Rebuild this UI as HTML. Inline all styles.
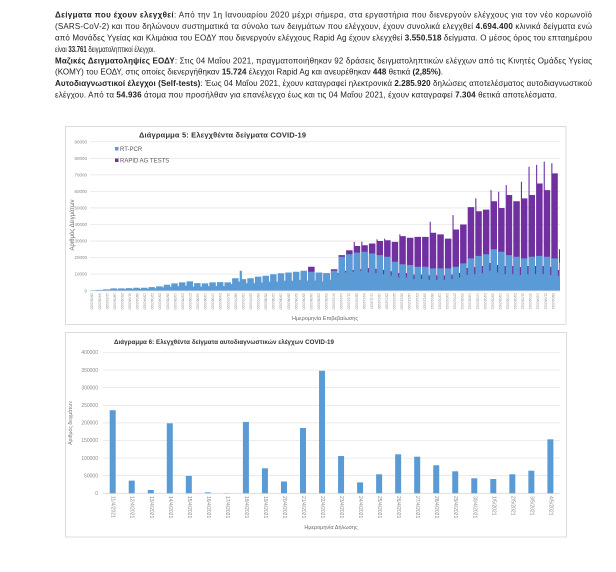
<!DOCTYPE html>
<html>
<head>
<meta charset="utf-8">
<style>
  html,body{margin:0;padding:0;background:#fff;}
  svg{display:block;}
  .p{font-family:"Liberation Sans","Noto Sans CJK SC",sans-serif;font-size:8px;fill:#222;}
  .b{font-weight:bold;}
  .t{font-family:"Liberation Sans",sans-serif;font-weight:bold;fill:#333;}
  .ax{font-family:"Liberation Sans",sans-serif;fill:#8a8a8a;}
  .lg{font-family:"Liberation Sans",sans-serif;fill:#595959;font-size:6px;}
  .xl{font-family:"Liberation Sans",sans-serif;fill:#8a8a8a;font-size:3.3px;dominant-baseline:central;}
  .xl2{font-family:"Liberation Sans",sans-serif;fill:#8a8a8a;font-size:5px;dominant-baseline:central;}
  .grid{stroke:#e6e6e6;stroke-width:0.8;}
</style>
</head>
<body>
<svg width="616" height="572" viewBox="0 0 616 572" xmlns="http://www.w3.org/2000/svg">
<rect width="616" height="572" fill="#fff"/>

<!-- Paragraph text -->
<text class="p" x="55" y="17.5" textLength="537" lengthAdjust="spacing"><tspan class="b">Δείγματα που έχουν ελεγχθεί</tspan>: Από την 1η Ιανουαρίου 2020 μέχρι σήμερα, στα εργαστήρια που διενεργούν ελέγχους για τον νέο κορωνοϊό</text>
<text class="p" x="55" y="29" textLength="537" lengthAdjust="spacing">(SARS-CoV-2) και που δηλώνουν συστηματικά τα σύνολο των δειγμάτων που ελέγχουν, έχουν συνολικά ελεγχθεί <tspan class="b">4.694.400</tspan> κλινικά δείγματα ενώ</text>
<text class="p" x="55" y="40.5" textLength="537" lengthAdjust="spacing">από Μονάδες Υγείας και Κλιμάκια του ΕΟΔΥ που διενεργούν ελέγχους Rapid Ag έχουν ελεγχθεί <tspan class="b">3.550.518</tspan> δείγματα. Ο μέσος όρος του επταημέρου</text>
<text class="p" x="55" y="51.8" textLength="100" lengthAdjust="spacingAndGlyphs">είναι <tspan class="b">33.761</tspan> δειγματοληπτικοί έλεγχοι.</text>
<text class="p" x="55" y="63.3" textLength="537" lengthAdjust="spacing"><tspan class="b">Μαζικές Δειγματοληψίες ΕΟΔΥ</tspan>: Στις 04 Μαΐου 2021, πραγματοποιήθηκαν 92 δράσεις δειγματοληπτικών ελέγχων από τις Κινητές Ομάδες Υγείας</text>
<text class="p" x="55" y="74.6" textLength="388" lengthAdjust="spacing">(ΚΟΜΥ) του ΕΟΔΥ, στις οποίες διενεργήθηκαν <tspan class="b">15.724</tspan> έλεγχοι Rapid Ag και ανευρέθηκαν <tspan class="b">448</tspan> θετικά <tspan class="b">(2,85%)</tspan>.</text>
<text class="p" x="55" y="86" textLength="537" lengthAdjust="spacing"><tspan class="b">Αυτοδιαγνωστικοί έλεγχοι (Self-tests)</tspan>: Έως 04 Μαΐου 2021, έχουν καταγραφεί ηλεκτρονικά <tspan class="b">2.285.920</tspan> δηλώσεις αποτελέσματος αυτοδιαγνωστικού</text>
<text class="p" x="55" y="97.4" textLength="502" lengthAdjust="spacing">ελέγχου. Από τα <tspan class="b">54.936</tspan> άτομα που προσήλθαν για επανέλεγχο έως και τις 04 Μαΐου 2021, έχουν καταγραφεί <tspan class="b">7.304</tspan> θετικά αποτελέσματα.</text>

<!-- ===== Chart 1 ===== -->
<rect x="65.5" y="126.5" width="500.5" height="198" fill="#fff" stroke="#dcdcdc" stroke-width="1"/>
<text class="t" x="222.5" y="137.5" font-size="7.5" text-anchor="middle" textLength="167" lengthAdjust="spacing">Διάγραμμα 5: Ελεγχθέντα δείγματα COVID-19</text>

<g class="grid">
<line x1="90" x2="560" y1="274.15" y2="274.15"/>
<line x1="90" x2="560" y1="257.6" y2="257.6"/>
<line x1="90" x2="560" y1="241.05" y2="241.05"/>
<line x1="90" x2="560" y1="224.5" y2="224.5"/>
<line x1="90" x2="560" y1="207.95" y2="207.95"/>
<line x1="90" x2="560" y1="191.4" y2="191.4"/>
<line x1="90" x2="560" y1="174.85" y2="174.85"/>
<line x1="90" x2="560" y1="158.3" y2="158.3"/>
<line x1="90" x2="560" y1="141.75" y2="141.75"/>
</g>

<g class="ax" font-size="4.5" text-anchor="end">
<text x="87" y="292.3">0</text>
<text x="87" y="275.7">10000</text>
<text x="87" y="259.2">20000</text>
<text x="87" y="242.6">30000</text>
<text x="87" y="226.1">40000</text>
<text x="87" y="209.5">50000</text>
<text x="87" y="193">60000</text>
<text x="87" y="176.4">70000</text>
<text x="87" y="159.9">80000</text>
<text x="87" y="143.3">90000</text>
</g>

<text class="ax" font-size="6" text-anchor="middle" transform="translate(74,225) rotate(-90)" style="fill:#6a6a6a">Αριθμός Δειγμάτων</text>

<!-- purple (total) -->
<path fill="#7030A0" d="M307,290.7V280.8H308.1V266.7H314.6V280.8H315.7V272.5H322.2V281.6H323.3V273.3H329.8V279.9H330.9V269.2H337.4V273.3H338.5V255.1H345V270.8H346.1V250.2H352.6V270H353.7V241.9H354.8V246H360.2V269.2H361.3V241.7H362.4V245.2H367.8V268H368.9V243.5H375.4V268.8H376.5V239.4H377.6V241H383V269.7H384.1V238.6H385.2V240.2H390.6V271.3H391.7V241.9H398.2V273H399.3V234.4H400.4V236.1H405.8V273H406.9V237.7H413.4V274.6H414.5V236.9H421V274.6H422.1V236.9H428.6V275.4H429.7V221.7H430.8V232.8H436.2V275.4H437.3V234.4H443.8V275.4H444.9V238.6H451.4V274.6H452.5V215.1H453.6V229.5H459V273H460.1V224.5H466.6V268H467.7V207.1H474.2V267H475.3V198.4H476.4V211.3H481.8V266H482.9V209.6H489.4V263H490.5V190.1H491.6V201.3H497V265H498.1V191.7H499.2V208H504.6V266H505.7V185.1H506.8V195H512.2V266H513.3V201.3H519.8V267H520.9V181.8H522V198.4H527.4V266H528.5V166.7H529.6V195H535V266H536.1V164.9H537.2V183.5H542.6V266H543.7V161.6H544.8V190.1H550.2V267H551.3V163.3H552.4V173.4H557.8V270H558.9V249.3H560V290.7Z"/>

<!-- blue (RT-PCR) -->
<path fill="#5B9BD5" d="M90,290.7V290.2H94.2V290.2H95.3V289.9H101.8V290H102.9V289.4H109.4V289.4H110.5V288.4H117V289.4H118.1V288.4H124.6V289.2H125.7V288.1H132.2V289H133.3V287.7H139.8V289H140.9V287.7H147.4V288.7H148.5V287.1H155V288.4H156.1V286.4H162.6V287.4H163.7V284.7H170.2V286.7H171.3V283.4H177.8V286.1H178.9V282.4H185.4V285.7H186.5V281.4H193V286.6H194.1V283.1H200.6V286.7H201.7V283.4H208.2V286.1H209.3V282.4H215.8V286H216.9V282.1H223.4V286.1H224.5V282.4H231V284.1H232.1V278.3H238.6V281.6H239.7V270.8H241.9V279.1H246.2V283.3H247.3V278.3H253.8V283.3H254.9V276.6H261.4V282.5H262.5V275.8H269V281.6H270.1V274.2H276.6V281.6H277.7V273.3H284.2V280.8H285.3V272.5H291.8V280.8H292.9V271.7H299.4V279.9H300.5V270.8H307V280.8H308.1V271.7H314.6V280.8H315.7V272.5H322.2V281.6H323.3V273.3H329.8V279.9H330.9V270.8H337.4V274.2H338.5V256.8H345V272.5H346.1V254.3H352.6V271.7H353.7V252.6H360.2V270.8H361.3V251.8H367.8V272.5H368.9V253.5H375.4V273.3H376.5V255.1H383V274.2H384.1V256.8H390.6V275.8H391.7V261.7H398.2V277.5H399.3V264.2H405.8V277.5H406.9V265H413.4V279.1H414.5V266.7H421V279.1H422.1V266.7H428.6V279.9H429.7V268.4H436.2V279.9H437.3V268.4H443.8V279.9H444.9V268.4H451.4V279.1H452.5V266.7H459V277.5H460.1V263.4H466.6V275H467.7V258.4H474.2V274.2H475.3V255.9H481.8V273.3H482.9V254.3H489.4V270.8H490.5V249.3H497V272.5H498.1V251.8H504.6V274.2H505.7V255.1H512.2V274.2H513.3V256.8H519.8V275H520.9V258.4H527.4V274.2H528.5V256.8H535V274.2H536.1V255.9H542.6V274.2H543.7V256.8H550.2V275H551.3V258.4H557.8V275.8H558.9V262.6H560V290.7Z"/>

<line x1="90" x2="560" y1="290.9" y2="290.9" stroke="#d9d9d9" stroke-width="0.8"/>

<!-- legend -->
<rect x="115" y="147" width="3.5" height="3.5" fill="#5B9BD5"/>
<text class="lg" x="120" y="151">RT-PCR</text>
<rect x="115" y="158.5" width="3.5" height="3.5" fill="#7030A0"/>
<text class="lg" x="120" y="162.4">RAPID AG TESTS</text>

<!-- x labels chart 1 -->
<g>
<text class="xl" transform="translate(91.7,293) rotate(90)">26/02/2020</text>
<text class="xl" transform="translate(99.26,293) rotate(90)">04/03/2020</text>
<text class="xl" transform="translate(106.82,293) rotate(90)">11/03/2020</text>
<text class="xl" transform="translate(114.38,293) rotate(90)">18/03/2020</text>
<text class="xl" transform="translate(121.94,293) rotate(90)">25/03/2020</text>
<text class="xl" transform="translate(129.5,293) rotate(90)">01/04/2020</text>
<text class="xl" transform="translate(137.06,293) rotate(90)">08/04/2020</text>
<text class="xl" transform="translate(144.62,293) rotate(90)">15/04/2020</text>
<text class="xl" transform="translate(152.18,293) rotate(90)">22/04/2020</text>
<text class="xl" transform="translate(159.74,293) rotate(90)">29/04/2020</text>
<text class="xl" transform="translate(167.3,293) rotate(90)">06/05/2020</text>
<text class="xl" transform="translate(174.86,293) rotate(90)">13/05/2020</text>
<text class="xl" transform="translate(182.42,293) rotate(90)">20/05/2020</text>
<text class="xl" transform="translate(189.98,293) rotate(90)">27/05/2020</text>
<text class="xl" transform="translate(197.54,293) rotate(90)">03/06/2020</text>
<text class="xl" transform="translate(205.1,293) rotate(90)">10/06/2020</text>
<text class="xl" transform="translate(212.66,293) rotate(90)">17/06/2020</text>
<text class="xl" transform="translate(220.22,293) rotate(90)">24/06/2020</text>
<text class="xl" transform="translate(227.78,293) rotate(90)">01/07/2020</text>
<text class="xl" transform="translate(235.34,293) rotate(90)">08/07/2020</text>
<text class="xl" transform="translate(242.9,293) rotate(90)">15/07/2020</text>
<text class="xl" transform="translate(250.46,293) rotate(90)">22/07/2020</text>
<text class="xl" transform="translate(258.02,293) rotate(90)">29/07/2020</text>
<text class="xl" transform="translate(265.58,293) rotate(90)">05/08/2020</text>
<text class="xl" transform="translate(273.14,293) rotate(90)">12/08/2020</text>
<text class="xl" transform="translate(280.7,293) rotate(90)">19/08/2020</text>
<text class="xl" transform="translate(288.26,293) rotate(90)">26/08/2020</text>
<text class="xl" transform="translate(295.82,293) rotate(90)">02/09/2020</text>
<text class="xl" transform="translate(303.38,293) rotate(90)">09/09/2020</text>
<text class="xl" transform="translate(310.94,293) rotate(90)">16/09/2020</text>
<text class="xl" transform="translate(318.5,293) rotate(90)">23/09/2020</text>
<text class="xl" transform="translate(326.06,293) rotate(90)">30/09/2020</text>
<text class="xl" transform="translate(333.62,293) rotate(90)">07/10/2020</text>
<text class="xl" transform="translate(341.18,293) rotate(90)">14/10/2020</text>
<text class="xl" transform="translate(348.74,293) rotate(90)">21/10/2020</text>
<text class="xl" transform="translate(356.3,293) rotate(90)">28/10/2020</text>
<text class="xl" transform="translate(363.86,293) rotate(90)">04/11/2020</text>
<text class="xl" transform="translate(371.42,293) rotate(90)">11/11/2020</text>
<text class="xl" transform="translate(378.98,293) rotate(90)">18/11/2020</text>
<text class="xl" transform="translate(386.54,293) rotate(90)">25/11/2020</text>
<text class="xl" transform="translate(394.1,293) rotate(90)">02/12/2020</text>
<text class="xl" transform="translate(401.66,293) rotate(90)">09/12/2020</text>
<text class="xl" transform="translate(409.22,293) rotate(90)">16/12/2020</text>
<text class="xl" transform="translate(416.78,293) rotate(90)">23/12/2020</text>
<text class="xl" transform="translate(424.34,293) rotate(90)">30/12/2020</text>
<text class="xl" transform="translate(431.9,293) rotate(90)">06/01/2021</text>
<text class="xl" transform="translate(439.46,293) rotate(90)">13/01/2021</text>
<text class="xl" transform="translate(447.02,293) rotate(90)">20/01/2021</text>
<text class="xl" transform="translate(454.58,293) rotate(90)">27/01/2021</text>
<text class="xl" transform="translate(462.14,293) rotate(90)">03/02/2021</text>
<text class="xl" transform="translate(469.7,293) rotate(90)">10/02/2021</text>
<text class="xl" transform="translate(477.26,293) rotate(90)">17/02/2021</text>
<text class="xl" transform="translate(484.82,293) rotate(90)">24/02/2021</text>
<text class="xl" transform="translate(492.38,293) rotate(90)">03/03/2021</text>
<text class="xl" transform="translate(499.94,293) rotate(90)">10/03/2021</text>
<text class="xl" transform="translate(507.5,293) rotate(90)">17/03/2021</text>
<text class="xl" transform="translate(515.06,293) rotate(90)">24/03/2021</text>
<text class="xl" transform="translate(522.62,293) rotate(90)">31/03/2021</text>
<text class="xl" transform="translate(530.18,293) rotate(90)">07/04/2021</text>
<text class="xl" transform="translate(537.74,293) rotate(90)">14/04/2021</text>
<text class="xl" transform="translate(545.3,293) rotate(90)">21/04/2021</text>
<text class="xl" transform="translate(552.86,293) rotate(90)">28/04/2021</text>
</g>
<text class="ax" font-size="5.5" text-anchor="middle" x="325" y="320" style="fill:#6a6a6a">Ημερομηνία Επιβεβαίωσης</text>

<!-- ===== Chart 2 ===== -->
<rect x="65.5" y="332.5" width="501" height="204.5" fill="#fff" stroke="#dcdcdc" stroke-width="1"/>
<text class="t" x="224" y="344" font-size="6.2" text-anchor="middle" textLength="220" lengthAdjust="spacing">Διάγραμμα 6: Ελεγχθέντα δείγματα αυτοδιαγνωστικών ελέγχων COVID-19</text>

<g class="grid">
<line x1="103" x2="560" y1="475.7" y2="475.7"/>
<line x1="103" x2="560" y1="458.1" y2="458.1"/>
<line x1="103" x2="560" y1="440.5" y2="440.5"/>
<line x1="103" x2="560" y1="422.9" y2="422.9"/>
<line x1="103" x2="560" y1="405.3" y2="405.3"/>
<line x1="103" x2="560" y1="387.7" y2="387.7"/>
<line x1="103" x2="560" y1="370.1" y2="370.1"/>
<line x1="103" x2="560" y1="352.5" y2="352.5"/>
</g>
<line x1="103" x2="560" y1="493.3" y2="493.3" stroke="#d9d9d9" stroke-width="0.8"/>

<g class="ax" font-size="5" text-anchor="end">
<text x="98" y="495">0</text>
<text x="98" y="477.4">50000</text>
<text x="98" y="459.8">100000</text>
<text x="98" y="442.2">150000</text>
<text x="98" y="424.6">200000</text>
<text x="98" y="407">250000</text>
<text x="98" y="389.4">300000</text>
<text x="98" y="371.8">350000</text>
<text x="98" y="354.2">400000</text>
</g>

<text class="ax" font-size="5.2" text-anchor="middle" transform="translate(72,423) rotate(-90)" style="fill:#7a7a7a">Αριθμός δειγμάτων</text>

<g fill="#5B9BD5">
<rect x="109.7" y="410.2" width="6" height="83.1"/>
<rect x="128.73" y="480.6" width="6" height="12.7"/>
<rect x="147.76" y="490" width="6" height="3.3"/>
<rect x="166.79" y="423.3" width="6" height="70"/>
<rect x="185.82" y="475.9" width="6" height="17.4"/>
<rect x="204.85" y="492.4" width="6" height="0.9"/>
<rect x="223.88" y="493.1" width="6" height="0.2"/>
<rect x="242.91" y="422" width="6" height="71.3"/>
<rect x="261.94" y="468.3" width="6" height="25"/>
<rect x="280.97" y="481.5" width="6" height="11.8"/>
<rect x="300" y="428" width="6" height="65.3"/>
<rect x="319.03" y="370.8" width="6" height="122.5"/>
<rect x="338.06" y="456" width="6" height="37.3"/>
<rect x="357.09" y="482.4" width="6" height="10.9"/>
<rect x="376.12" y="474.3" width="6" height="19"/>
<rect x="395.15" y="454.3" width="6" height="39"/>
<rect x="414.18" y="456.7" width="6" height="36.6"/>
<rect x="433.21" y="465.3" width="6" height="28"/>
<rect x="452.24" y="471.3" width="6" height="22"/>
<rect x="471.27" y="478.3" width="6" height="15"/>
<rect x="490.3" y="479" width="6" height="14.3"/>
<rect x="509.33" y="474.3" width="6" height="19"/>
<rect x="528.36" y="470.7" width="6" height="22.6"/>
<rect x="547.39" y="439.3" width="6" height="54"/>
</g>

<g>
<text class="xl2" transform="translate(112.7,496) rotate(90)">11/4/2021</text>
<text class="xl2" transform="translate(131.73,496) rotate(90)">12/4/2021</text>
<text class="xl2" transform="translate(150.76,496) rotate(90)">13/4/2021</text>
<text class="xl2" transform="translate(169.79,496) rotate(90)">14/4/2021</text>
<text class="xl2" transform="translate(188.82,496) rotate(90)">15/4/2021</text>
<text class="xl2" transform="translate(207.85,496) rotate(90)">16/4/2021</text>
<text class="xl2" transform="translate(226.88,496) rotate(90)">17/4/2021</text>
<text class="xl2" transform="translate(245.91,496) rotate(90)">18/4/2021</text>
<text class="xl2" transform="translate(264.94,496) rotate(90)">19/4/2021</text>
<text class="xl2" transform="translate(283.97,496) rotate(90)">20/4/2021</text>
<text class="xl2" transform="translate(303,496) rotate(90)">21/4/2021</text>
<text class="xl2" transform="translate(322.03,496) rotate(90)">22/4/2021</text>
<text class="xl2" transform="translate(341.06,496) rotate(90)">23/4/2021</text>
<text class="xl2" transform="translate(360.09,496) rotate(90)">24/4/2021</text>
<text class="xl2" transform="translate(379.12,496) rotate(90)">25/4/2021</text>
<text class="xl2" transform="translate(398.15,496) rotate(90)">26/4/2021</text>
<text class="xl2" transform="translate(417.18,496) rotate(90)">27/4/2021</text>
<text class="xl2" transform="translate(436.21,496) rotate(90)">28/4/2021</text>
<text class="xl2" transform="translate(455.24,496) rotate(90)">29/4/2021</text>
<text class="xl2" transform="translate(474.27,496) rotate(90)">30/4/2021</text>
<text class="xl2" transform="translate(493.3,496) rotate(90)">1/5/2021</text>
<text class="xl2" transform="translate(512.33,496) rotate(90)">2/5/2021</text>
<text class="xl2" transform="translate(531.36,496) rotate(90)">3/5/2021</text>
<text class="xl2" transform="translate(550.39,496) rotate(90)">4/5/2021</text>
</g>
<text class="ax" font-size="5.5" text-anchor="middle" x="331" y="529" style="fill:#6a6a6a">Ημερομηνία Δήλωσης</text>
</svg>
</body>
</html>
